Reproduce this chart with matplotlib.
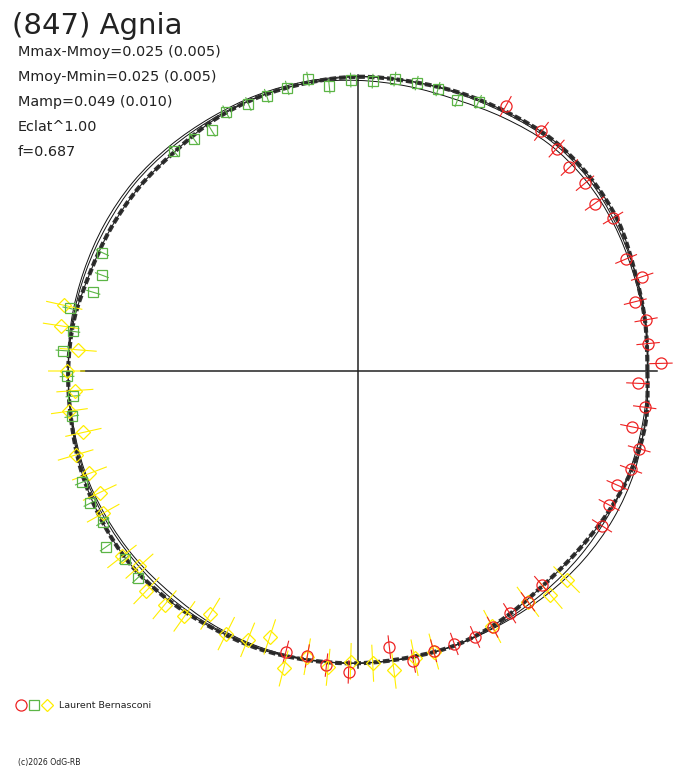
"""
Curva de luz polar de (847) Agnia: tres sesiones y modelo.
"""

import numpy as np
import matplotlib
matplotlib.use("Agg")
import matplotlib.pyplot as plt
from matplotlib.path import Path
from matplotlib.patches import PathPatch

# --- datos: fase (0-1) y magnitud relativa (mag) por sesión ---
fase_rojo = [0.169, 0.146, 0.134, 0.122, 0.110, 0.098, 0.086, 0.063, 0.051, 0.039,
             0.028, 0.015, 0.004, 0.993, 0.980, 0.968, 0.957, 0.945, 0.934, 0.922,
             0.910, 0.863, 0.851, 0.839, 0.827, 0.816, 0.804, 0.792, 0.780, 0.768,
             0.745, 0.733, 0.722, 0.710]
dmag_rojo = [0.030, 0.027, 0.018, 0.006, 0.009, -0.003, 0.016, -0.001, 0.021, -0.013,
             0.004, 0.001, 0.030, -0.027, -0.005, -0.029, 0.002, -0.002, -0.019, -0.016,
             -0.005, -0.022, -0.011, -0.013, -0.004, -0.001, -0.004, -0.003, 0.011, -0.033,
             0.025, 0.012, -0.004, -0.002]

fase_verde = [0.183, 0.194, 0.206, 0.218, 0.230, 0.242, 0.254, 0.266, 0.277, 0.289,
              0.301, 0.312, 0.325, 0.337, 0.348, 0.361, 0.431, 0.443, 0.454, 0.466,
              0.478, 0.489, 0.503, 0.514, 0.525, 0.561, 0.573, 0.585, 0.597, 0.608,
              0.620]
dmag_verde = [0.010, -0.006, 0.005, 0.007, 0.008, -0.002, 0.000, -0.012, 0.013, 0.002,
              -0.003, -0.006, -0.001, -0.023, -0.016, -0.011, -0.023, -0.044, -0.037, 0.010,
              -0.008, 0.012, 0.000, -0.012, -0.003, 0.017, 0.019, 0.014, 0.041, 0.021,
              0.028]

fase_amar = [0.465, 0.476, 0.488, 0.500, 0.511, 0.522, 0.535, 0.546, 0.558, 0.570,
             0.581, 0.606, 0.616, 0.628, 0.640, 0.652, 0.663, 0.676, 0.688, 0.699,
             0.711, 0.722, 0.734, 0.746, 0.758, 0.769, 0.781, 0.792, 0.827, 0.851,
             0.863, 0.875]
dmag_amar = [0.025, 0.023, -0.026, 0.001, -0.018, 0.001, -0.024, 0.009, -0.009, -0.014,
             0.002, 0.023, 0.005, 0.035, 0.031, 0.024, -0.017, 0.007, -0.001, -0.027,
             0.039, -0.002, 0.017, -0.001, 0.004, 0.026, 0.003, -0.001, -0.006, -0.011,
             0.010, 0.010]

err_rojo, err_verde, err_amar = 0.028, 0.017, 0.045

# modelo (cada 10 grados de fase) y dos curvas finas
modelo_dmag = [-0.004, 0.001, 0.008, 0.023, 0.028, 0.028, 0.019, 0.013, 0.008, 0.008,
               0.004, 0.001, -0.004, -0.013, -0.013, -0.014, -0.014, -0.006, -0.003, 0.000,
               0.008, 0.014, 0.019, 0.016, 0.011, 0.010, 0.006, 0.003, 0.000, 0.000,
               -0.009, -0.019, -0.018, -0.010, 0.000, 0.003]
fina1_dmag = [-0.003, 0.000, 0.003, 0.010, 0.015, 0.014, 0.003, -0.006, -0.005, -0.001,
              0.003, 0.002, 0.000, 0.000, 0.001, -0.002, -0.003, -0.003, -0.003, -0.003,
              0.000, 0.000, 0.000, -0.001, 0.003, 0.005, 0.004, 0.003, 0.001, 0.000,
              0.000, 0.004, 0.008, 0.010, 0.008, 0.001]
fina2_dmag = [-0.003, 0.003, 0.008, 0.015, 0.023, 0.023, 0.015, 0.010, 0.009, 0.009,
              0.008, 0.007, 0.005, 0.006, 0.007, 0.005, 0.002, 0.000, -0.003, -0.001,
              0.003, 0.005, 0.006, 0.008, 0.008, 0.008, 0.005, 0.003, 0.001, 0.000,
              -0.003, -0.005, -0.005, -0.005, -0.004, -0.004]

titulo = "(847) Agnia"
lineas_info = ["Mmax-Mmoy=0.025 (0.005)", "Mmoy-Mmin=0.025 (0.005)",
               "Mamp=0.049 (0.010)", "Eclat^1.00", "f=0.687"]
observador = "Laurent Bernasconi"
copyright_txt = "(c)2026 OdG-RB"

# --- geometría (pixeles) ---
R0 = 291.0     # radio para dmag = 0
ESC = 400.0    # px por magnitud
CX, CY = 358.0, 371.0

ROJO, VERDE, AMARILLO = "#ee2222", "#5cb546", "#ffee00"
TINTA = "#222222"


def polar_xy(fase, dm):
    th = 2 * np.pi * np.asarray(fase, dtype=float)
    r = R0 + ESC * np.asarray(dm, dtype=float)
    return CX + r * np.cos(th), CY - r * np.sin(th)


def barras(fase, dm, err):
    """Segmentos radiales de error separados por NaN."""
    xs, ys = [], []
    for f, d in zip(fase, dm):
        x, y = polar_xy([f, f], [d - err, d + err])
        xs += list(x) + [np.nan]
        ys += list(y) + [np.nan]
    return xs, ys


def curva_cerrada(dmags):
    """Trazo cerrado suave (Bezier tipo Catmull-Rom) por los puntos del modelo."""
    n = len(dmags)
    x, y = polar_xy(np.arange(n) / n, dmags)
    P = np.column_stack([x, y])
    verts = [P[0]]
    codes = [Path.MOVETO]
    for i in range(n):
        p0, p1, p2, p3 = P[i - 1], P[i], P[(i + 1) % n], P[(i + 2) % n]
        verts += [p1 + (p2 - p0) / 6, p2 - (p3 - p1) / 6, p2]
        codes += [Path.CURVE4] * 3
    return Path(verts, codes)


fig = plt.figure(figsize=(6.88, 7.68), dpi=100)
ax = fig.add_axes([0, 0, 1, 1])
ax.set_xlim(0, 688)
ax.set_ylim(768, 0)
ax.axis("off")

# cruz central
ax.plot([81, 657], [CY, CY], color=TINTA, lw=1.1, zorder=1)
ax.plot([CX, CX], [75, 668], color=TINTA, lw=1.1, zorder=1)

# curvas del modelo
for dm in (fina1_dmag, fina2_dmag):
    ax.add_patch(PathPatch(curva_cerrada(dm), fill=False, ec="#111111",
                           lw=0.7, zorder=2))
trazo = curva_cerrada(modelo_dmag)
ax.add_patch(PathPatch(trazo, fill=False, ec="#333333", lw=3.0,
                       ls=(0, (1.6, 0.7)), zorder=2))
ax.add_patch(PathPatch(trazo, fill=False, ec=TINTA, lw=0.8, zorder=2))

# sesiones
sesiones = [
    (fase_amar, dmag_amar, err_amar, AMARILLO, "D", 7),
    (fase_verde, dmag_verde, err_verde, VERDE, "s", 7.5),
    (fase_rojo, dmag_rojo, err_rojo, ROJO, "o", 8),
]
for fase, dm, err, col, mk, ms in sesiones:
    bx, by = barras(fase, dm, err)
    ax.plot(bx, by, color=col, lw=0.8, zorder=3)
    px, py = polar_xy(fase, dm)
    ax.plot(px, py, ls="none", marker=mk, ms=ms, mfc="none", mec=col,
            mew=0.9, zorder=4)

# textos
fuente = "DejaVu Sans"
ax.text(12, 34, titulo, fontsize=21, family=fuente, color=TINTA, va="baseline")
for i, t in enumerate(lineas_info):
    ax.text(18, 56 + 25 * i, t, fontsize=10.4, family=fuente, color=TINTA,
            va="baseline")

# leyenda inferior
ax.plot([21], [705], marker="o", ms=8, mfc="none", mec=ROJO, mew=0.9)
ax.plot([34], [705], marker="s", ms=7, mfc="none", mec=VERDE, mew=0.9)
ax.plot([47], [705], marker="D", ms=6.5, mfc="none", mec=AMARILLO, mew=0.9)
ax.text(59, 705, observador, fontsize=6.8, family=fuente, color=TINTA, va="center")
ax.text(18, 763, copyright_txt, fontsize=5.6, family=fuente, color=TINTA,
        va="center")

fig.savefig("out.png", dpi=100)
